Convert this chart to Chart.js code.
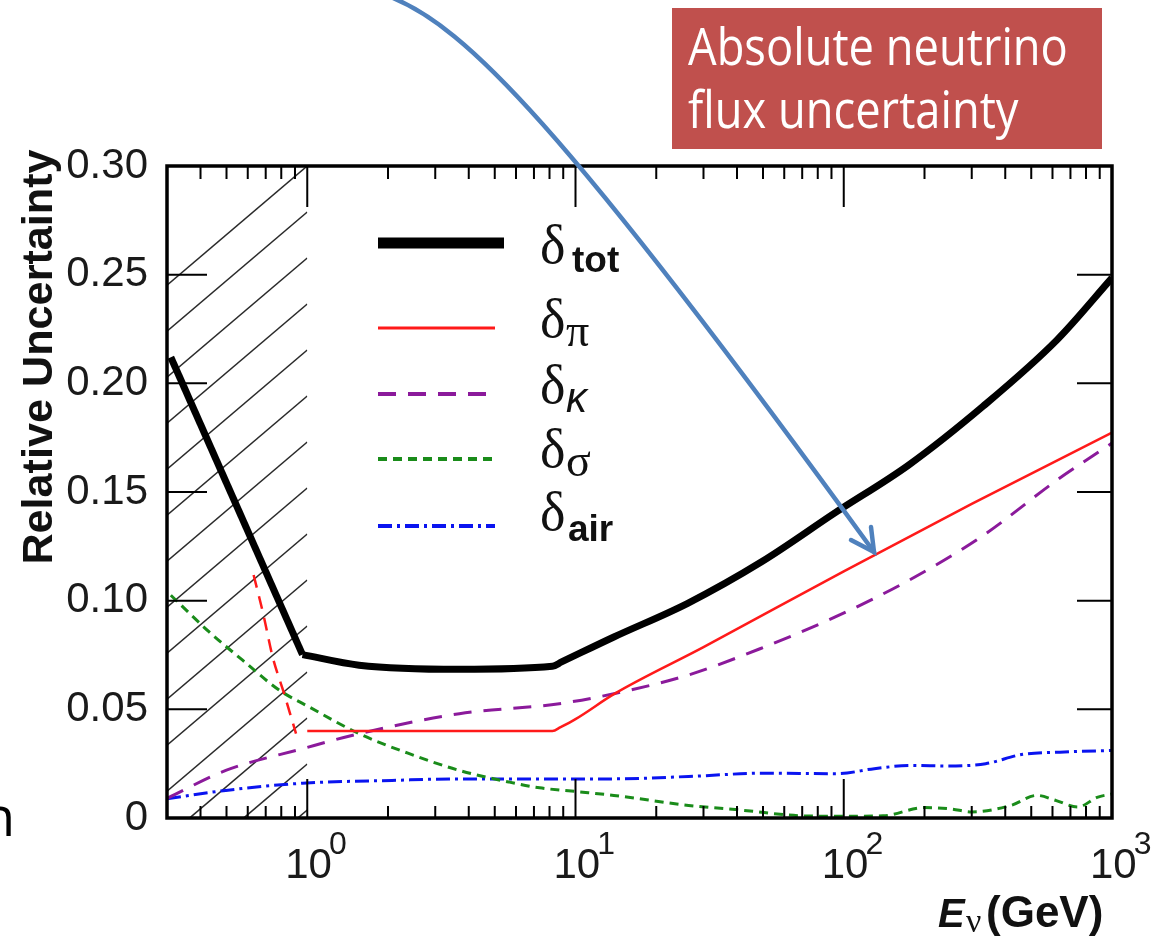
<!DOCTYPE html>
<html lang="en">
<head>
  <meta charset="UTF-8" />
  <title>Relative neutrino flux uncertainty</title>
  <script src="https://cdn.jsdelivr.net/npm/chart.js"></script>
  <style>
    body { margin: 0; background: #fff; }
    #wrap { width: 1173px; height: 940px; position: relative; }
  </style>
</head>
<body>

<div id="wrap">
  <canvas id="grafico"></canvas>
</div>

<script>
  // energies (GeV) and relative uncertainties
  const eTotLow = [0.31, 0.96];
  const dTotLow = [0.212, 0.0752];
  const eTot = [0.96, 1.56, 3.69, 8.2, 8.87, 13.9, 26.2, 49.4, 93, 175, 331, 624, 1000];
  const dTot = [0.0752, 0.0703, 0.0684, 0.0698, 0.0718, 0.0833, 0.0988, 0.1179, 0.1405, 0.1625, 0.1895, 0.220, 0.2485];

  const ePiLow = [0.631, 0.687, 0.743, 0.820, 0.908];
  const dPiLow = [0.1118, 0.0933, 0.0741, 0.0572, 0.0388];
  const ePi = [1.0, 8.2, 8.8, 10, 14, 30, 100, 300, 1000];
  const dPi = [0.040, 0.040, 0.0418, 0.0455, 0.0572, 0.0786, 0.1135, 0.1445, 0.1773];

  const eK = [0.3, 0.497, 0.96, 1.56, 3.69, 8.7, 13.9, 26.2, 49, 93, 175, 331, 624, 1000];
  const dK = [0.009, 0.0219, 0.0319, 0.0388, 0.048, 0.0526, 0.0572, 0.0657, 0.078, 0.0925, 0.1094, 0.130, 0.1555, 0.1725];

  const eSigma = [0.31, 0.431, 0.574, 0.787, 1.02, 1.56, 2.4, 3.69, 5.67, 7.35, 10, 13.9, 26.4, 42.5, 70, 100, 140, 200, 250, 300, 420, 525, 620, 746, 880, 1000];
  const dSigma = [0.1025, 0.0856, 0.0726, 0.0588, 0.051, 0.0388, 0.0296, 0.0219, 0.0165, 0.0139, 0.0122, 0.0104, 0.0058, 0.0035, 0.001, 0.0008, 0.001, 0.0048, 0.0042, 0.0028, 0.0058, 0.0104, 0.008, 0.005, 0.0095, 0.0111];

  const eAir = [0.3, 0.497, 0.96, 2.07, 3.69, 8.7, 13.9, 26.4, 50, 94.6, 130, 178, 246, 338, 465, 640, 1000];
  const dAir = [0.0088, 0.0127, 0.016, 0.0173, 0.018, 0.018, 0.018, 0.0191, 0.0206, 0.0204, 0.0227, 0.0242, 0.0239, 0.025, 0.0293, 0.0303, 0.0311];

  const yTickValues = [0, 0.05, 0.10, 0.15, 0.20, 0.25, 0.30];
  const yTickLabels = ['0', '0.05', '0.10', '0.15', '0.20', '0.25', '0.30'];
  const xDecades = [1, 10, 100, 1000];
  const xExponents = ['0', '1', '2', '3'];

  const legendSubs = ['tot', 'π', 'κ', 'σ', 'air'];

  function pts(xs, ys) {
    return xs.map((x, i) => ({ x: x, y: ys[i] }));
  }

  const SANS = '"Liberation Sans", Arial, sans-serif';
  const SERIF = '"Liberation Serif", "Times New Roman", serif';

  // line styles (plot and legend)
  const styles = [
    { color: '#000000', width: 7, dash: [], legW: 11 },
    { color: '#ff1a1a', width: 2.5, dash: [], legW: 3 },
    { color: '#8b1a9b', width: 3, dash: [18, 12], legW: 4 },
    { color: '#1a8c1a', width: 3, dash: [9, 6], legW: 4 },
    { color: '#0a14f0', width: 3, dash: [14, 5, 3, 5], legW: 4 }
  ];

  const desenho = {
    id: 'desenho',
    beforeDatasetsDraw(chart) {
      const ctx = chart.ctx;
      const a = chart.chartArea;
      const xs = chart.scales.x;
      const x0 = a.left, x1 = xs.getPixelForValue(1);
      // hatched region below 1 GeV
      ctx.save();
      ctx.beginPath();
      ctx.rect(x0, a.top, x1 - x0, a.bottom - a.top);
      ctx.clip();
      ctx.strokeStyle = '#2a2a2a';
      ctx.lineWidth = 1.6;
      const s = 0.85, step = 46;
      const w = x1 - x0;
      for (let yk = a.top; yk < a.bottom + s * w + step; yk += step) {
        ctx.beginPath();
        ctx.moveTo(x0, yk + s * w);
        ctx.lineTo(x1, yk);
        ctx.stroke();
      }
      ctx.restore();
    },
    afterDatasetsDraw(chart) {
      const ctx = chart.ctx;
      const a = chart.chartArea;
      const xs = chart.scales.x, ys = chart.scales.y;

      ctx.save();
      ctx.strokeStyle = '#000';
      ctx.lineWidth = 2;
      // x ticks (bottom and top)
      for (let d = 0.1; d < 1000; d *= 10) {
        for (let m = 1; m <= 9; m++) {
          const v = d * m;
          if (v < 0.3 || v > 1000) continue;
          const x = xs.getPixelForValue(v);
          const major = (m === 1);
          ctx.beginPath();
          ctx.moveTo(x, a.bottom);
          ctx.lineTo(x, a.bottom - (major ? 39 : 12));
          ctx.moveTo(x, a.top);
          ctx.lineTo(x, a.top + (major ? 41 : 13));
          ctx.stroke();
        }
      }
      // y ticks (left and right)
      yTickValues.forEach(v => {
        const y = ys.getPixelForValue(v);
        ctx.beginPath();
        ctx.moveTo(a.left, y);
        ctx.lineTo(a.left + 40, y);
        ctx.moveTo(a.right, y);
        ctx.lineTo(a.right - 35, y);
        ctx.stroke();
      });
      // frame
      ctx.lineWidth = 3.5;
      ctx.strokeRect(a.left, a.top, a.right - a.left, a.bottom - a.top);

      // y labels
      ctx.fillStyle = '#1a1a1a';
      ctx.font = '42px ' + SANS;
      ctx.textAlign = 'right';
      ctx.textBaseline = 'middle';
      yTickValues.forEach((v, i) => {
        ctx.fillText(yTickLabels[i], 148, ys.getPixelForValue(v));
      });

      // x labels 10^n
      ctx.textAlign = 'left';
      ctx.textBaseline = 'alphabetic';
      xDecades.forEach((v, i) => {
        const x = xs.getPixelForValue(v) - 22;
        ctx.font = '42px ' + SANS;
        ctx.fillText('10', x, 878);
        const w10 = ctx.measureText('10').width;
        ctx.font = '32px ' + SANS;
        ctx.fillText(xExponents[i], x + w10 - 3, 854);
      });

      // axis titles
      ctx.fillStyle = '#111';
      ctx.font = 'italic bold 40px ' + SANS;
      ctx.fillText('E', 938, 927);
      ctx.font = '34px ' + SERIF;
      ctx.fillText('ν', 966, 932);
      ctx.font = 'bold 44px ' + SANS;
      ctx.fillText('(GeV)', 986, 927);

      ctx.save();
      ctx.translate(40, 357);
      ctx.rotate(-Math.PI / 2);
      ctx.textAlign = 'center';
      ctx.textBaseline = 'middle';
      ctx.font = 'bold 40px ' + SANS;
      const tw = ctx.measureText('Relative Uncertainty').width;
      ctx.font = 'bold ' + (40 * 415 / tw).toFixed(1) + 'px ' + SANS;
      ctx.fillText('Relative Uncertainty', 0, 0);
      ctx.restore();

      // legend
      const rowsLine = [243, 328, 394, 459, 526];
      const rowsText = [263, 337, 403, 467, 530];
      const lineEnd = [504, 495, 490, 495, 495];
      styles.forEach((st, i) => {
        ctx.beginPath();
        ctx.strokeStyle = st.color;
        ctx.lineWidth = st.legW;
        ctx.setLineDash(st.dash);
        ctx.moveTo(378, rowsLine[i]);
        ctx.lineTo(lineEnd[i], rowsLine[i]);
        ctx.stroke();
        ctx.setLineDash([]);
        ctx.fillStyle = '#111';
        ctx.font = '54px ' + SERIF;
        ctx.fillText('δ', 540, rowsText[i]);
        const sub = legendSubs[i];
        if (sub === 'tot') {
          ctx.font = 'bold 37px ' + SANS;
          ctx.fillText(sub, 572, rowsText[i] + 9);
        } else if (sub === 'air') {
          ctx.font = 'bold 37px ' + SANS;
          ctx.fillText(sub, 568, rowsText[i] + 11);
        } else if (sub === 'κ') {
          ctx.font = 'italic 42px ' + SANS;
          ctx.fillText(sub, 566, rowsText[i] + 9);
        } else {
          ctx.font = '46px ' + SERIF;
          ctx.fillText(sub, 566, rowsText[i] + 9);
        }
      });
      ctx.restore();
    },
    afterDraw(chart) {
      const ctx = chart.ctx;
      ctx.save();
      // red annotation box
      ctx.fillStyle = '#c0504d';
      ctx.fillRect(672, 8, 430, 141);
      ctx.fillStyle = '#ffffff';
      ctx.textAlign = 'left';
      ctx.textBaseline = 'alphabetic';
      const linhas = [['Absolute neutrino', 65], ['flux uncertainty', 128]];
      ctx.font = '48px "Open Sans", sans-serif';
      const k = 380 / ctx.measureText(linhas[0][0]).width;
      ctx.font = (48 * k).toFixed(1) + 'px "Open Sans", sans-serif';
      linhas.forEach(l => {
        ctx.save();
        ctx.translate(688, l[1]);
        ctx.scale(1, 1.12);
        ctx.fillText(l[0], 0, 0);
        ctx.restore();
      });

      // blue arrow
      ctx.strokeStyle = '#4f81bd';
      ctx.lineWidth = 4.5;
      ctx.lineCap = 'round';
      ctx.beginPath();
      ctx.moveTo(393, -2);
      ctx.bezierCurveTo(465, 28, 560, 120, 874, 552);
      ctx.stroke();
      ctx.beginPath();
      ctx.moveTo(851, 540);
      ctx.lineTo(874, 552);
      ctx.lineTo(871, 527);
      ctx.stroke();

      // cut-off slide text at the left edge
      ctx.fillStyle = '#000';
      ctx.textAlign = 'right';
      ctx.font = '54px "Open Sans", sans-serif';
      ctx.fillText('n', 15, 836);
      ctx.restore();
    }
  };

  const series = [
    { data: pts(eTot, dTot), st: styles[0], mode: 'monotone' },
    { data: pts(eTotLow, dTotLow), st: styles[0], mode: 'default' },
    { data: pts(ePi, dPi), st: styles[1], mode: 'monotone' },
    { data: pts(ePiLow, dPiLow), st: { color: styles[1].color, width: 2.5, dash: [13, 9] }, mode: 'monotone' },
    { data: pts(eK, dK), st: styles[2], mode: 'monotone' },
    { data: pts(eSigma, dSigma), st: styles[3], mode: 'monotone' },
    { data: pts(eAir, dAir), st: styles[4], mode: 'monotone' }
  ];

  new Chart(document.getElementById('grafico'), {
    type: 'line',
    data: {
      datasets: series.map(s => ({
        data: s.data,
        borderColor: s.st.color,
        borderWidth: s.st.width,
        borderDash: s.st.dash,
        borderJoinStyle: 'round',
        cubicInterpolationMode: s.mode,
        tension: 0,
        pointRadius: 0,
        fill: false
      }))
    },
    options: {
      responsive: true,
      maintainAspectRatio: false,
      animation: false,
      layout: { padding: { left: 167, right: 61, top: 166, bottom: 122 } },
      plugins: { legend: { display: false }, tooltip: { enabled: false } },
      scales: {
        x: { type: 'logarithmic', min: 0.3, max: 1000, display: false },
        y: { type: 'linear', min: 0, max: 0.3, display: false }
      }
    },
    plugins: [desenho]
  });
</script>

</body>
</html>
